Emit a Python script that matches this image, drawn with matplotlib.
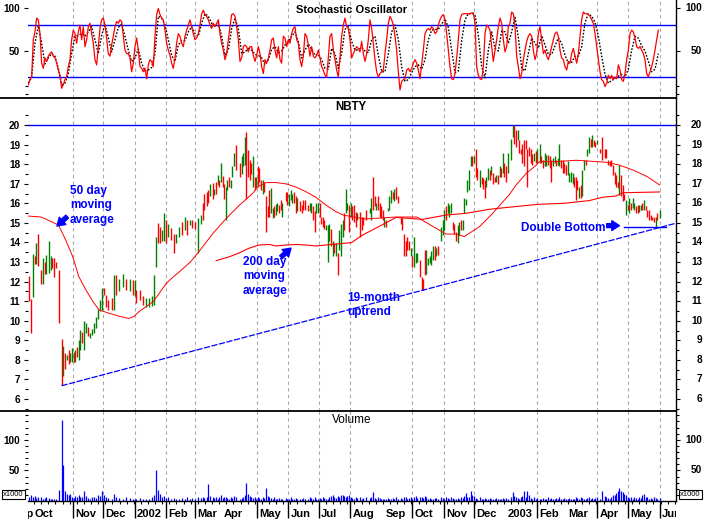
import numpy as np
import matplotlib
matplotlib.use("Agg")
from matplotlib import pyplot as plt
from matplotlib.lines import Line2D
import matplotlib.transforms as mtransforms

plt.rcParams['font.family'] = ['Liberation Sans', 'DejaVu Sans']

START = np.datetime64('2001-09-18')   # day 0 = left edge of the chart

# ---- daily bars: day offset from START, high, low, direction (g = up, r = down) ----
bar_day = np.array([
    1, 3, 5, 7, 8, 10, 13, 15, 17, 18,
    21, 23, 24, 26, 28, 30, 33, 34, 36, 38,
    40, 41, 43, 45, 46, 48, 50, 51, 53, 55,
    57, 59, 61, 63, 65, 67, 69, 71, 73, 75,
    77, 79, 83, 85, 87, 89, 93, 96, 100, 103,
    105, 106, 110, 113, 116, 119, 122, 124, 126, 128,
    130, 132, 134, 136, 138, 141, 144, 146, 148, 151,
    154, 156, 159, 161, 164, 167, 170, 172, 173, 176,
    177, 179, 182, 183, 185, 187, 188, 190, 192, 193,
    195, 196, 198, 200, 201, 203, 205, 208, 210, 211,
    213, 214, 216, 218, 219, 221, 223, 224, 226, 227,
    229, 231, 232, 234, 236, 237, 239, 241, 242, 244,
    245, 247, 249, 250, 254, 255, 257, 259, 260, 262,
    264, 265, 267, 269, 270, 272, 275, 277, 278, 280,
    282, 283, 285, 287, 288, 290, 291, 293, 295, 296,
    298, 300, 301, 303, 305, 306, 308, 310, 311, 313,
    314, 316, 318, 319, 321, 323, 324, 326, 328, 329,
    332, 336, 337, 339, 341, 342, 344, 346, 347, 349,
    350, 352, 354, 355, 357, 359, 360, 362, 364, 367,
    368, 370, 372, 373, 375, 377, 378, 380, 382, 383,
    385, 387, 388, 390, 391, 393, 395, 396, 398, 400,
    401, 403, 406, 408, 409, 411, 413, 414, 416, 418,
    419, 421, 423, 424, 426, 428, 429, 431, 432, 434,
    436, 437, 439, 441, 442, 444, 446, 447, 449, 450,
    452, 454, 455, 457, 459, 460, 462, 464, 465, 467,
    468, 470, 472, 475, 477, 478, 480, 482, 483, 485,
    486, 488, 490, 491, 493, 495, 496, 498, 500, 501,
    503, 504, 506, 508, 509, 511, 513, 514, 516, 518,
    519, 521, 522, 524, 526, 527, 529, 531, 532, 534,
    536, 537, 539, 540, 542, 544, 545, 547, 549, 550,
    552, 554, 555, 557, 558, 560, 562, 564, 567, 568,
    570, 572, 573, 575, 577, 578, 580, 581, 583, 585,
    586, 588, 590, 591, 593, 595, 596, 598, 600, 601,
    603, 604, 606, 608, 609, 611, 613, 614, 616, 618,
    619, 621])

bar_high = np.array([
    12.3, 11.1, 13.4, 13.3, 13.95, 14.45, 12.6, 13.2, 13.0, 13.35,
    14.05, 13.3, 13.2, 13.2, 13.0, 12.6, 9.07, 8.7, 8.35, 8.25,
    8.5, 8.35, 8.6, 8.4, 8.5, 8.65, 9.0, 9.55, 9.45, 10.0,
    9.9, 9.7, 9.4, 9.6, 9.9, 10.2, 10.6, 11.05, 11.65, 11.65,
    11.3, 11.05, 11.15, 12.35, 12.35, 12.15, 12.4, 12.15, 12.15, 12.1,
    12.1, 11.55, 11.55, 11.25, 11.15, 11.15, 11.25, 12.35, 14.3, 15.0,
    14.8, 14.65, 15.5, 15.15, 14.95, 14.75, 14.45, 14.45, 14.8, 15.05,
    15.3, 15.15, 15.15, 15.15, 15.05, 15.25, 15.4, 16.0, 16.5, 16.6,
    16.7, 17.0, 17.05, 16.75, 17.1, 17.45, 17.2, 18.05, 17.4, 17.0,
    16.85, 17.2, 17.35, 17.2, 17.9, 18.55, 19.0, 18.05, 18.4, 18.55,
    19.4, 19.65, 18.7, 18.2, 18.05, 18.4, 17.35, 17.35, 17.9, 17.8,
    17.2, 17.2, 17.1, 16.35, 15.85, 16.7, 16.8, 15.75, 15.85, 15.95,
    16.0, 15.9, 16.15, 16.0, 16.6, 16.6, 16.5, 16.7, 16.5, 16.6,
    16.35, 16.25, 16.1, 15.9, 16.15, 16.15, 15.9, 16.0, 16.0, 15.85,
    15.6, 16.0, 16.0, 16.0, 15.3, 15.3, 15.15, 14.9, 14.9, 14.95,
    14.7, 14.05, 13.95, 13.95, 13.45, 14.65, 14.95, 15.15, 15.5, 16.75,
    16.0, 15.9, 16.0, 15.85, 15.9, 15.55, 15.5, 15.55, 15.3, 15.3,
    15.65, 15.75, 16.25, 17.35, 16.35, 16.0, 16.35, 16.0, 15.85, 15.65,
    15.3, 15.15, 15.75, 16.35, 16.7, 16.6, 16.75, 16.85, 16.35, 15.3,
    15.25, 14.45, 14.1, 14.3, 14.1, 13.7, 13.3, 14.3, 13.45, 13.45,
    13.1, 12.25, 12.15, 13.6, 13.6, 13.2, 13.3, 13.55, 13.8, 13.8,
    13.7, 13.8, 14.8, 15.15, 15.65, 15.85, 16.0, 15.9, 16.0, 15.05,
    14.95, 14.55, 14.9, 15.05, 15.15, 15.15, 16.25, 16.2, 17.2, 17.7,
    18.4, 18.4, 18.4, 18.75, 17.8, 17.7, 17.35, 17.3, 17.2, 17.35,
    17.8, 17.7, 17.9, 17.55, 17.35, 17.45, 17.45, 17.9, 17.8, 18.55,
    18.05, 17.9, 18.55, 19.3, 20.0, 20.0, 19.75, 19.75, 19.25, 18.8,
    19.05, 19.25, 19.25, 18.75, 18.9, 18.75, 18.5, 18.55, 18.65, 18.8,
    19.05, 18.4, 18.2, 18.55, 18.45, 18.45, 18.4, 18.2, 18.3, 18.4,
    18.2, 18.3, 19.05, 18.2, 18.2, 18.05, 17.95, 18.15, 17.55, 17.6,
    17.55, 17.35, 17.35, 17.2, 16.85, 16.95, 17.7, 18.2, 18.2, 18.75,
    19.4, 19.3, 19.5, 19.25, 19.15, 19.25, 18.75, 19.4, 18.75, 18.75,
    18.2, 18.15, 18.2, 17.95, 17.6, 17.45, 17.1, 17.95, 17.45, 16.95,
    16.5, 16.15, 15.9, 16.25, 16.0, 16.25, 16.0, 15.85, 15.9, 15.9,
    15.9, 16.0, 16.15, 15.85, 15.65, 15.65, 15.4, 15.3, 15.3, 15.3,
    15.5, 15.65])

bar_low = np.array([
    11.0, 9.4, 11.2, 12.9, 12.9, 12.8, 11.9, 11.9, 12.4, 12.4,
    12.45, 12.6, 12.7, 12.25, 12.7, 9.9, 6.7, 7.2, 7.55, 8.0,
    7.8, 7.9, 7.9, 7.9, 7.9, 8.15, 8.0, 8.5, 8.85, 8.5,
    9.4, 9.2, 9.1, 9.25, 9.4, 9.65, 10.1, 10.5, 10.55, 11.3,
    10.7, 10.55, 10.55, 10.55, 11.3, 11.5, 11.75, 11.55, 11.5, 11.3,
    11.25, 10.9, 11.05, 10.8, 10.7, 10.7, 10.75, 10.8, 12.75, 13.95,
    13.95, 14.1, 14.1, 13.95, 14.3, 14.15, 13.45, 13.95, 14.3, 14.4,
    14.65, 14.4, 14.9, 14.75, 14.7, 13.45, 14.95, 15.15, 15.65, 15.85,
    16.0, 16.35, 16.2, 16.4, 16.5, 16.95, 16.85, 17.1, 16.85, 16.2,
    15.15, 16.7, 16.85, 16.8, 17.35, 17.9, 17.7, 17.35, 17.5, 17.9,
    17.95, 16.2, 17.35, 17.2, 17.5, 16.85, 16.7, 16.85, 16.85, 17.1,
    16.7, 16.5, 16.6, 14.55, 15.3, 15.3, 15.5, 15.25, 15.3, 15.4,
    15.6, 15.5, 15.65, 15.3, 16.1, 15.9, 15.85, 16.15, 16.0, 16.0,
    15.5, 15.6, 15.6, 15.5, 15.65, 15.65, 15.6, 15.6, 15.5, 15.15,
    14.55, 15.5, 15.5, 15.3, 14.95, 14.8, 14.7, 14.65, 13.0, 14.1,
    13.8, 13.3, 13.45, 13.3, 12.35, 13.6, 13.3, 14.3, 14.65, 15.5,
    15.65, 14.55, 15.3, 15.15, 15.05, 14.8, 15.15, 14.3, 14.65, 14.9,
    15.15, 15.5, 15.15, 15.65, 15.85, 15.65, 15.65, 15.3, 15.25, 15.15,
    14.8, 14.8, 15.6, 15.65, 16.0, 16.2, 16.1, 16.2, 16.0, 14.95,
    14.65, 13.3, 13.3, 13.6, 13.6, 13.3, 12.75, 12.75, 12.95, 13.0,
    12.25, 11.55, 11.55, 12.35, 12.4, 12.85, 12.95, 12.85, 13.1, 13.1,
    13.3, 13.35, 14.1, 14.4, 14.65, 15.15, 15.5, 15.3, 15.5, 14.65,
    14.45, 14.05, 13.95, 14.4, 14.65, 14.65, 15.5, 15.9, 16.6, 16.7,
    17.9, 17.9, 18.05, 17.35, 17.2, 16.85, 17.0, 16.75, 16.25, 16.85,
    17.2, 17.2, 17.45, 17.0, 17.1, 17.1, 17.0, 17.35, 17.35, 17.55,
    17.35, 17.1, 17.55, 18.2, 19.4, 19.05, 18.9, 19.25, 18.55, 18.5,
    18.05, 17.9, 18.75, 16.85, 18.4, 18.05, 17.95, 18.15, 18.05, 18.05,
    18.05, 18.05, 17.8, 17.9, 17.9, 17.95, 17.8, 17.1, 17.9, 18.05,
    17.9, 17.95, 17.9, 17.8, 17.55, 17.55, 17.45, 17.45, 17.1, 17.1,
    17.0, 16.85, 16.15, 16.7, 16.25, 16.25, 16.35, 17.7, 17.95, 18.4,
    18.55, 18.9, 18.9, 18.95, 18.9, 19.05, 18.55, 18.2, 18.3, 18.3,
    17.95, 17.9, 17.9, 17.45, 17.0, 16.85, 16.8, 16.4, 16.35, 16.1,
    16.15, 15.4, 15.65, 15.5, 15.65, 15.75, 15.65, 15.5, 15.5, 15.55,
    15.65, 15.65, 15.65, 15.65, 15.3, 15.15, 15.15, 15.15, 15.05, 14.8,
    15.15, 15.25])

bar_dir = ("rrgrgrrgrg" "ggrrrrrgrg" "rggrgrggrg" "grgggggggr" "rrrgrggrgr"
           "grrrgggggr" "rggrgrrggr" "grgrrggrrr" "rgrgrgrgrr" "ggrgggrrgg"
           "grrrrgrgrr" "rgrrrrggrg" "grrgrrgggr" "rgrrrrrggr" "rggrrrrggg"
           "rgrgrgggrg" "grgrrrgrrr" "rggrrgrrrr" "grgggrgrrr" "rrrrrgrggg"
           "rrrrgggggr" "grgggrgggr" "rrggrggggg" "grgrrgrrrg" "grgrrgrgrg"
           "rrgggrrgrr" "rrrrrrrgrg" "grrggrrrgg" "rggrrrrggg" "grrrgrggrg"
           "grgrrgrrrr" "rrrrrrrgrr" "rgrgrggrrg" "grgrrrrrrg" "rg")

# volume in thousands of shares, one per bar
bar_vol = np.array([
    7, 9, 6, 8, 5, 7, 6, 4, 5, 6,
    5, 4, 3, 4, 3, 18, 132, 58, 17, 12,
    9, 11, 7, 5, 8, 6, 10, 7, 6, 16,
    8, 5, 4, 6, 7, 5, 9, 8, 16, 9,
    6, 5, 4, 12, 7, 5, 4, 6, 5, 3,
    4, 3, 5, 4, 3, 4, 6, 9, 50, 18,
    12, 7, 8, 5, 6, 4, 5, 3, 4, 5,
    4, 6, 3, 5, 4, 6, 5, 7, 5, 6,
    28, 8, 6, 5, 7, 4, 6, 9, 5, 6,
    7, 5, 4, 6, 5, 8, 6, 4, 5, 7,
    9, 30, 12, 8, 6, 5, 7, 4, 6, 5,
    4, 6, 5, 21, 8, 6, 5, 4, 6, 3,
    4, 5, 3, 4, 5, 3, 4, 6, 3, 4,
    5, 4, 3, 4, 5, 3, 4, 6, 5, 4,
    7, 4, 3, 5, 4, 6, 5, 4, 3, 7,
    8, 9, 6, 5, 8, 7, 9, 10, 8, 7,
    8, 9, 6, 5, 4, 6, 5, 7, 4, 5,
    6, 5, 6, 15, 5, 4, 6, 5, 3, 4,
    4, 3, 5, 4, 3, 5, 4, 6, 3, 5,
    4, 7, 6, 4, 5, 6, 4, 7, 8, 5,
    6, 7, 5, 8, 6, 4, 5, 3, 4, 5,
    5, 4, 7, 5, 4, 6, 5, 4, 6, 5,
    4, 3, 5, 4, 6, 5, 8, 13, 6, 7,
    17, 9, 8, 5, 4, 6, 3, 4, 5, 4,
    3, 5, 4, 3, 4, 5, 3, 4, 3, 5,
    4, 5, 4, 7, 15, 8, 6, 5, 4, 6,
    8, 17, 6, 17, 9, 5, 4, 6, 4, 5,
    4, 3, 5, 4, 3, 6, 4, 5, 3, 4,
    5, 4, 6, 4, 3, 5, 4, 3, 5, 4,
    3, 4, 6, 5, 4, 7, 5, 4, 3, 5,
    6, 4, 5, 4, 5, 7, 4, 17, 8, 6,
    5, 4, 6, 9, 10, 13, 16, 21, 17, 14,
    12, 9, 6, 5, 7, 4, 6, 5, 4, 6,
    5, 10, 12, 7, 6, 4, 5, 4, 6, 5,
    4, 5])

# ---- moving averages (day, value) ----
ma50_day = [0, 13, 23, 30, 37, 44, 50, 57, 64, 70, 80, 89, 99, 104, 109, 116, 123, 129,
            136, 143, 149, 160, 168, 182, 195, 208, 221, 226, 234, 244, 254, 264, 273,
            283, 293, 303, 310, 318, 332, 362, 382, 384, 411, 421, 429, 444, 457, 467,
            473, 480, 490, 500, 503, 519, 539, 568, 581, 595, 609, 621]
ma50_val = [15.35, 15.3, 15.06, 14.89, 14.13, 13.27, 12.25, 11.57, 10.97, 10.55, 10.38,
            10.24, 10.12, 10.21, 10.46, 10.72, 10.97, 11.4, 11.91, 12.25, 12.51, 13.02,
            13.53, 14.47, 15.23, 15.91, 16.51, 16.85, 17.06, 17.06, 16.99, 16.82, 16.6,
            16.31, 15.91, 15.57, 15.4, 15.32, 15.2, 15.3, 15.3, 15.25, 14.43, 14.43, 14.3,
            14.81, 15.49, 16.08, 16.42, 16.94, 17.53, 17.96, 18.13, 18.13, 18.2, 18.1,
            17.96, 17.7, 17.36, 16.94]
ma200_day = [185, 198, 207, 217, 227, 237, 244, 254, 264, 273, 283, 293, 303, 318, 329,
             345, 362, 388, 411, 431, 453, 473, 502, 527, 552, 565, 578, 585, 621]
ma200_val = [13.07, 13.27, 13.45, 13.7, 13.87, 13.9, 13.82, 13.87, 13.9, 13.87, 13.82,
             13.87, 13.92, 13.99, 14.38, 14.81, 15.28, 15.18, 15.4, 15.49, 15.69, 15.8,
             15.95, 16.0, 16.14, 16.31, 16.37, 16.54, 16.58]

# 19-month uptrend line and the double bottom level
trend_day = [33, 637]
trend_val = [6.68, 14.98]
bottom_day = [586, 627]
bottom_val = [14.77, 14.77]

# ---- stochastic oscillator, sampled about every trading day ----
stoch_k = [
    11, 17, 20, 63, 72, 88, 86, 70, 36, 30,
    42, 38, 44, 47, 49, 44, 42, 36, 28, 22,
    7, 11, 17, 20, 32, 40, 63, 74, 70, 59,
    72, 80, 63, 78, 55, 63, 78, 82, 70, 59,
    40, 34, 55, 76, 86, 88, 80, 65, 47, 44,
    57, 67, 78, 84, 82, 86, 84, 67, 51, 47,
    47, 42, 26, 36, 55, 65, 51, 32, 30, 26,
    30, 18, 34, 40, 38, 32, 67, 92, 99, 92,
    88, 86, 74, 59, 51, 45, 36, 30, 42, 59,
    70, 67, 59, 55, 67, 74, 80, 86, 78, 70,
    63, 65, 70, 80, 93, 97, 92, 90, 86, 80,
    76, 82, 78, 82, 86, 70, 59, 51, 40, 47,
    63, 78, 92, 93, 90, 78, 63, 38, 42, 55,
    57, 55, 49, 55, 55, 45, 38, 45, 55, 47,
    32, 24, 40, 36, 42, 51, 63, 65, 51, 42,
    55, 40, 36, 67, 65, 55, 63, 59, 70, 76,
    78, 63, 59, 40, 32, 44, 70, 67, 57, 44,
    55, 44, 42, 45, 51, 42, 32, 28, 22, 20,
    42, 67, 70, 51, 40, 28, 20, 44, 67, 80,
    88, 78, 76, 63, 42, 47, 51, 55, 53,
    49, 61, 47, 38, 47, 63, 86, 76, 59, 40,
    26, 20, 24, 26, 28, 47, 63, 82, 90, 86,
    80, 67, 51, 26, 5, 15, 17, 18, 28, 30,
    26, 30, 36, 40, 36, 28, 18, 34, 51, 70,
    74, 76, 74, 78, 76, 70, 72, 80, 86, 90,
    92, 86, 70, 51, 32, 18, 17, 24, 42, 63,
    86, 92, 93, 93, 93, 93, 93, 94, 94, 82,
    32, 22, 18, 17, 32, 70, 80, 78, 74, 55,
    38, 51, 63, 78, 88, 82, 63, 49, 55, 78,
    82, 95, 93, 78, 44, 32, 18, 24, 40, 51,
    61, 67, 70, 67, 51, 40, 47, 70, 78, 63,
    47, 51, 44, 40, 47, 55, 63, 70, 72, 67,
    51, 42, 40, 32, 28, 38, 36, 47, 53, 44,
    36, 47, 67, 86, 95, 93, 93, 92, 90, 86,
    82, 70, 55, 40, 26, 17, 15, 9, 13, 22,
    18, 22, 17, 20, 18, 34, 28, 17, 15, 24,
    40, 51, 70, 74, 72, 65, 55, 53, 55, 51,
    47, 40, 24, 20, 26, 32, 40, 51, 63, 74]
# %D, one value for every second %K sample
stoch_d = [
    13, 20, 59, 79, 59, 35, 42, 47, 44, 30,
    11, 13, 24, 47, 67, 68, 70, 67, 72, 78,
    63, 47, 68, 81, 65, 49, 63, 77, 81, 67,
    51, 38, 42, 52, 36, 27, 28, 31, 47, 90,
    88, 80, 63, 45, 38, 57, 62, 62, 72, 78,
    70, 67, 82, 93, 90, 82, 78, 82, 67, 45,
    51, 76, 88, 76, 47, 49, 53, 51, 46, 45,
    42, 34, 40, 52, 55, 48, 50, 57, 61, 67,
    72, 61, 42, 51, 58, 52, 45, 46, 40, 30,
    29, 53, 47, 30, 48, 75, 78, 61, 51, 51,
    54, 50, 48, 63, 67, 45, 26, 26, 47, 72,
    80, 63, 32, 15, 17, 25, 32, 34, 29, 40,
    63, 74, 75, 75, 81, 87, 77, 51, 25, 27,
    62, 86, 93, 93, 92, 68, 32, 19, 51, 72,
    53, 50, 73, 72, 59, 72, 89, 66, 30, 27,
    47, 65, 59, 53, 68, 57, 46, 46, 56, 65,
    59, 45, 36, 37, 44, 44, 55, 83, 93, 90,
    83, 67, 44, 23, 13, 16, 18, 21, 23, 20,
    29, 51, 67, 65, 56, 50, 38, 26, 29, 47]

# ---- date axis ----
grid_dates = ['2001-11-01', '2001-12-01', '2002-01-01', '2002-02-01', '2002-03-01',
              '2002-05-01', '2002-06-01', '2002-07-01', '2002-08-01', '2002-10-01',
              '2002-11-01', '2002-12-01', '2003-02-01', '2003-04-01', '2003-05-01',
              '2003-06-01']
month_date = ['2001-09-02', '2001-09-22', '2001-11-01', '2001-12-01', '2002-01-01',
              '2002-02-01', '2002-03-01', '2002-03-27', '2002-05-01', '2002-06-01',
              '2002-07-01', '2002-08-01', '2002-09-03', '2002-10-01', '2002-11-01',
              '2002-12-01', '2003-01-01', '2003-02-01', '2003-03-01', '2003-04-01',
              '2003-05-01', '2003-06-01']
month_text = ['Sep', 'Oct', 'Nov', 'Dec', '2002', 'Feb', 'Mar', 'Apr', 'May', 'Jun',
              'Jul', 'Aug', 'Sep', 'Oct', 'Nov', 'Dec', '2003', 'Feb', 'Mar', 'Apr',
              'May', 'Jun']

assert len(bar_day) == len(bar_high) == len(bar_low) == len(bar_dir) == len(bar_vol)


def day_of(s):
    return float((np.datetime64(s) - START).astype(int))


BLUE = '#0000ff'
RED = '#ff0000'
GREEN = '#008000'
XMAX = 637.2

W, H = 704.0, 519.0
fig = plt.figure(figsize=(W / 100, H / 100), dpi=100)


def panel(y0, y1):
    return fig.add_axes([28 / W, 1 - y1 / H, 648 / W, (y1 - y0) / H])


ax_st = panel(0, 98)
ax_pr = panel(98, 411)
ax_vo = panel(411, 501)
ax_lb = panel(501, 519)

grid_day = [day_of(s) for s in grid_dates]


def style(ax, ylim, major, minor):
    ax.set_xlim(0, XMAX)
    ax.set_ylim(*ylim)
    for side in ('top', 'left', 'bottom'):
        ax.spines[side].set_visible(False)
    ax.spines['right'].set_linewidth(1.0)
    ax.set_yticks(major)
    ax.set_yticks(minor, minor=True)
    ax.tick_params(axis='y', which='both', left=True, right=True, direction='out',
                   width=0.8, labelleft=True, labelright=False, labelsize=7.2, pad=2.5)
    ax.tick_params(axis='y', which='major', length=3)
    ax.tick_params(axis='y', which='minor', length=2)
    for lab in ax.get_yticklabels():
        lab.set_fontweight('bold')
    # right hand labels sit right-aligned near the image edge
    tr = mtransforms.blended_transform_factory(ax.transAxes, ax.transData)
    for v in major:
        ax.text(1 + 26 / 648, v, str(v), transform=tr, ha='right', va='center',
                fontsize=7.2, fontweight='bold')
    ax.set_xticks(grid_day)
    ax.tick_params(axis='x', which='major', length=0, labelbottom=False)
    ax.grid(axis='x', which='major', color='#a8a8a8', linestyle=(0, (3, 3)), linewidth=0.8)
    ax.set_axisbelow(True)


# stochastic
style(ax_st, (-4.2, 108.8), [50, 100], [0, 10])
k_day = 0.3 + 1.639 * np.arange(len(stoch_k))
ax_st.axhline(80, color=BLUE, lw=1.0)
ax_st.axhline(20, color=BLUE, lw=1.0)
ax_st.plot(k_day[::2], stoch_d, color='black', lw=1.0, ls=(0, (1.2, 1.2)))
ax_st.plot(k_day, stoch_k, color=RED, lw=0.9)

# price
style(ax_pr, (5.39, 21.38), list(range(6, 21)), list(np.arange(5.5, 21, 1.0)))
ax_pr.axhline(20, color=BLUE, lw=1.0)
up = np.array([c == 'g' for c in bar_dir])
ax_pr.vlines(bar_day[up], bar_low[up], bar_high[up], color=GREEN, lw=1.0)
ax_pr.vlines(bar_day[~up], bar_low[~up], bar_high[~up], color=RED, lw=1.0)
ax_pr.plot(ma50_day, ma50_val, color=RED, lw=0.7)
ax_pr.plot(ma200_day, ma200_val, color=RED, lw=0.8)
ax_pr.plot(trend_day, trend_val, color=BLUE, lw=0.9, ls=(0, (5, 1.2)))
ax_pr.plot(bottom_day, bottom_val, color=BLUE, lw=1.0)

note = dict(color=BLUE, fontsize=8.5, fontweight='bold', linespacing=1.25,
            multialignment='left')
ax_pr.text(41.3, 16.93, '50 day\nmoving\naverage', va='top', ha='left', **note)
ax_pr.text(211.4, 13.3, '200 day\nmoving\naverage', va='top', ha='left', **note)
ax_pr.text(313.7, 11.47, '19-month\nuptrend', va='top', ha='left', **note)
ax_pr.text(484.8, 14.58, 'Double Bottom', va='baseline', ha='left', **note)
arrow = dict(arrowstyle='simple,head_length=0.55,head_width=0.7,tail_width=0.28',
             color=BLUE, shrinkA=0, shrinkB=0, mutation_scale=10)
ax_pr.annotate('', xy=(28.5, 14.84), xytext=(38.5, 15.32), arrowprops=arrow)
ax_pr.annotate('', xy=(258.6, 13.71), xytext=(248.8, 13.25), arrowprops=arrow)
ax_pr.annotate('', xy=(581.6, 14.86), xytext=(569.0, 14.86), arrowprops=arrow)

# volume
style(ax_vo, (0, 147), [50, 100], [10, 20, 30, 40, 60, 70, 80, 90, 110, 120, 130, 140])
ax_vo.vlines(bar_day, 0, bar_vol, color=BLUE, lw=0.9)
ax_vo.spines['bottom'].set_visible(True)
ax_vo.spines['bottom'].set_linewidth(1.0)
ax_vo.tick_params(axis='x', which='major', bottom=True, length=12.5, width=1.0,
                  direction='out')
ax_vo.set_xticks(np.arange(6, XMAX, 7), minor=True)
ax_vo.tick_params(axis='x', which='minor', bottom=True, length=2.2, width=0.8,
                  direction='out')

# month labels, clipped to the plot width
ax_lb.set_xlim(0, XMAX)
ax_lb.set_ylim(0, 1)
ax_lb.axis('off')
for d, s in zip(month_date, month_text):
    t = ax_lb.text(day_of(d) + 2, 0.13, s, fontsize=8, fontweight='bold',
                   ha='left', va='baseline')
    t.set_clip_box(ax_lb.bbox)
    t.set_clip_on(True)

# panel titles and separators
fig.text(352 / W, 1 - 10 / H, 'Stochastic Oscillator', ha='center', va='center',
         fontsize=8, fontweight='bold')
fig.text(351 / W, 1 - 107 / H, 'NBTY', ha='center', va='center', fontsize=8.3,
         fontweight='bold')
fig.text(352 / W, 1 - 420 / H, 'Volume', ha='center', va='center', fontsize=8.5)
for y in (98, 411):
    fig.add_artist(Line2D([0, 676 / W], [1 - y / H] * 2, color='black', lw=1.3,
                          transform=fig.transFigure))
box = dict(boxstyle='square,pad=0.15', fc='white', ec='black', lw=0.8)
fig.text(13.5 / W, 1 - 494.5 / H, 'x1000', ha='center', va='center', fontsize=5.5, bbox=box)
fig.text(690.5 / W, 1 - 494.5 / H, 'x1000', ha='center', va='center', fontsize=5.5, bbox=box)

fig.savefig('out.png', dpi=100)
